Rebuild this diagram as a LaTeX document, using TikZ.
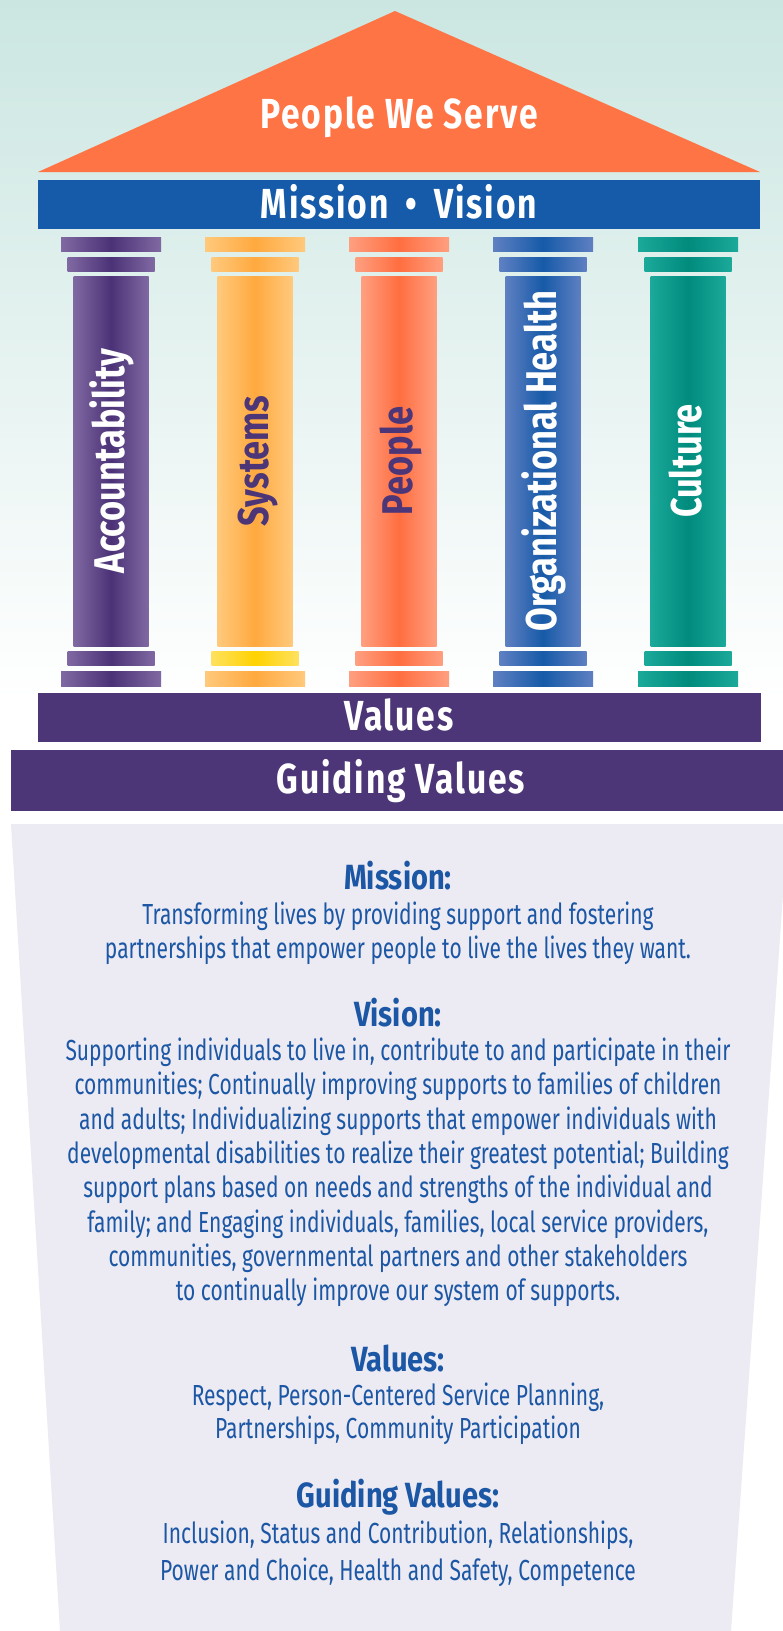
\documentclass[tikz,border=0pt]{standalone}
\usepackage{fontspec}
\setmainfont{Fira Sans}
\newfontfamily\condfont[FakeStretch=0.8]{Fira Sans}
\newfontfamily\titlefont[FakeStretch=0.8,LetterSpace=4.5]{Fira Sans}
\newfontfamily\headfont[FakeStretch=0.83]{Fira Sans}
\newfontfamily\bodyfont[FakeStretch=0.724]{Fira Sans}
\definecolor{bgtop}{HTML}{CBE6E1}
\definecolor{roofc}{HTML}{FF7445}
\definecolor{missionc}{HTML}{155BA9}
\definecolor{purplec}{HTML}{4D3677}
\definecolor{panelc}{HTML}{ECEAF2}
\definecolor{textblue}{HTML}{1B57A5}
\definecolor{pAl}{HTML}{8069A2}
\definecolor{pAd}{HTML}{4B3277}
\definecolor{pBl}{HTML}{FFC97C}
\definecolor{pBd}{HTML}{FFA93F}
\definecolor{pCl}{HTML}{FF9F80}
\definecolor{pCd}{HTML}{FF6E40}
\definecolor{pDl}{HTML}{5F80C2}
\definecolor{pDd}{HTML}{165AA8}
\definecolor{pEl}{HTML}{1BA99A}
\definecolor{pEd}{HTML}{008B7D}
\definecolor{yelLl}{HTML}{FFE15E}
\definecolor{yelLd}{HTML}{FFD200}
\tikzset{
  bartext/.style={font=\titlefont\bfseries\fontsize{42}{42}\selectfont, text=white, anchor=base, inner sep=0pt},
  pillartext/.style={font=\condfont\bfseries\fontsize{43}{43}\selectfont, anchor=base, rotate=90, inner sep=0pt},
  headtext/.style={font=\headfont\bfseries\fontsize{35}{35}\selectfont, text=textblue, anchor=base, inner sep=0pt},
  bodytext/.style={font=\bodyfont\fontsize{29}{29}\selectfont, text=textblue, anchor=base, inner sep=0pt}
}
\begin{document}
\begin{tikzpicture}[x=1pt,y=-1pt]
\useasboundingbox (0,0) rectangle (783,1631);
% background
\shade[top color=bgtop, bottom color=white] (0,0) rectangle (783,700);
\fill[white] (0,700) rectangle (783,1631);
% lower panel
\begin{scope}
\clip (0,0) rectangle (783,1631);
\fill[panelc] (11,824) -- (788,824) -- (731,1631) -- (60,1631) -- cycle;
\end{scope}
% roof
\fill[roofc] (38,172) -- (395,11) -- (760,172) -- cycle;
\node[bartext] (roof) at (399,128) {People We Serve};
% mission bar
\fill[missionc] (38,180) rectangle (760,229);
\node[bartext] (mission) at (399,218) {Mission\hspace{17pt}•\hspace{17pt}Vision};
% pillars
\foreach \c/\lt/\dk/\sl/\sd/\lab/\tc [count=\i] in {
  111/pAl/pAd/pAl/pAd/Accountability/white,
  255/pBl/pBd/yelLl/yelLd/Systems/purplec,
  399/pCl/pCd/pCl/pCd/People/purplec,
  543/pDl/pDd/pDl/pDd/Organizational Health/white,
  688/pEl/pEd/pEl/pEd/Culture/white}{
  \shade[left color=\lt, right color=\lt, middle color=\dk] ({\c-50},237) rectangle ({\c+50},251);
  \shade[left color=\lt, right color=\lt, middle color=\dk] ({\c-43.5},257) rectangle ({\c+43.5},271);
  \shade[left color=\lt, right color=\lt, middle color=\dk] ({\c-37.5},276) rectangle ({\c+37.5},646);
  \shade[left color=\sl, right color=\sl, middle color=\sd] ({\c-43.5},651) rectangle ({\c+43.5},665);
  \shade[left color=\lt, right color=\lt, middle color=\dk] ({\c-50},671) rectangle ({\c+50},686);
  \node[pillartext, text=\tc] (pillar\i) at ({\c+13},461) {\lab};
}
% values bars
\fill[purplec] (38,693) rectangle (761,742);
\node[bartext] (values) at (399,730) {Values};
\fill[purplec] (11,750) rectangle (783,811);
\node[bartext] (guiding) at (401,793) {Guiding Values};
% lower text
\node[headtext] (mhead) at (398,889) {Mission:};
\node[bodytext] (m1) at (398,924) {Transforming lives by providing support and fostering};
\node[bodytext] (m2) at (398,958) {partnerships that empower people to live the lives they want.};
\node[headtext] (vhead) at (398,1026) {Vision:};
\node[bodytext] (v1) at (398,1060) {Supporting individuals to live in, contribute to and participate in their};
\node[bodytext] (v2) at (398,1094) {communities; Continually improving supports to families of children};
\node[bodytext] (v3) at (398,1129) {and adults; Individualizing supports that empower individuals with};
\node[bodytext] (v4) at (398,1163) {developmental disabilities to realize their greatest potential; Building};
\node[bodytext] (v5) at (398,1197) {support plans based on needs and strengths of the individual and};
\node[bodytext] (v6) at (398,1232) {family; and Engaging individuals, families, local service providers,};
\node[bodytext] (v7) at (398,1266) {communities, governmental partners and other stakeholders};
\node[bodytext] (v8) at (398,1300) {to continually improve our system of supports.};
\node[headtext] (vahead) at (398,1371) {Values:};
\node[bodytext] (va1) at (398,1405) {Respect, Person-Centered Service Planning,};
\node[bodytext] (va2) at (398,1438) {Partnerships, Community Participation};
\node[headtext] (ghead) at (398,1507) {Guiding Values:};
\node[bodytext] (g1) at (398,1543) {Inclusion, Status and Contribution, Relationships,};
\node[bodytext] (g2) at (398,1580) {Power and Choice, Health and Safety, Competence};
\end{tikzpicture}
\end{document}
